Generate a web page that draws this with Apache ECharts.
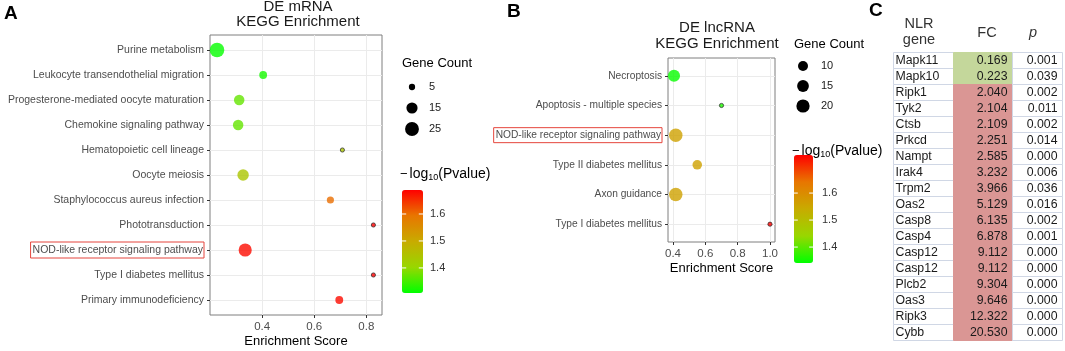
<!DOCTYPE html>
<html>
<head>
<meta charset="utf-8">
<script src="https://cdn.jsdelivr.net/npm/echarts@6/dist/echarts.min.js"></script>
<style>
  html, body { margin: 0; padding: 0; background: #fff; }
  #main { width: 1065px; height: 351px; }
</style>
</head>
<body>
<div id="main"></div>
<script>
// A: DE mRNA KEGG enrichment
const mrnaPathways = ['Purine metabolism', 'Leukocyte transendothelial migration', 'Progesterone-mediated oocyte maturation',
  'Chemokine signaling pathway', 'Hematopoietic cell lineage', 'Oocyte meiosis', 'Staphylococcus aureus infection',
  'Phototransduction', 'NOD-like receptor signaling pathway', 'Type I diabetes mellitus', 'Primary immunodeficiency']
const mrnaScore = [0.227, 0.404, 0.312, 0.308, 0.708, 0.327, 0.662, 0.827, 0.335, 0.827, 0.696]
const mrnaCount = [28, 7, 13, 13, 4, 16, 6, 4, 22, 4, 7]
const mrnaLogP = [1.31, 1.32, 1.37, 1.37, 1.44, 1.44, 1.60, 1.689, 1.68, 1.689, 1.68]
const mrnaXTicks = [0.4, 0.6, 0.8]
const mrnaCountLegend = [5, 15, 25]
const mrnaLogPTicks = [1.4, 1.5, 1.6]

// B: DE lncRNA KEGG enrichment
const lncPathways = ['Necroptosis', 'Apoptosis - multiple species', 'NOD-like receptor signaling pathway',
  'Type II diabetes mellitus', 'Axon guidance', 'Type I diabetes mellitus']
const lncScore = [0.406, 0.70, 0.417, 0.55, 0.417, 1.0]
const lncCount = [16, 3, 21, 9, 21, 3]
const lncLogP = [1.345, 1.36, 1.56, 1.56, 1.56, 1.74]
const lncXTicks = [0.4, 0.6, 0.8, 1.0]
const lncCountLegend = [10, 15, 20]
const lncLogPTicks = [1.4, 1.5, 1.6]

// C: NLR genes table
const nlrGenes = ['Mapk11', 'Mapk10', 'Ripk1', 'Tyk2', 'Ctsb', 'Prkcd', 'Nampt', 'Irak4', 'Trpm2', 'Oas2',
  'Casp8', 'Casp4', 'Casp12', 'Casp12', 'Plcb2', 'Oas3', 'Ripk3', 'Cybb']
const nlrFC = [0.169, 0.223, 2.040, 2.104, 2.109, 2.251, 2.585, 3.232, 3.966, 5.129,
  6.135, 6.878, 9.112, 9.112, 9.304, 9.646, 12.322, 20.530]
const nlrP = [0.001, 0.039, 0.002, 0.011, 0.002, 0.014, 0.000, 0.006, 0.036, 0.016,
  0.002, 0.001, 0.000, 0.000, 0.000, 0.000, 0.000, 0.000]

const FONT = '"Liberation Sans", Arial, sans-serif'
const GRAD = ['#00FF00', '#98D700', '#C8AB00', '#E87600', '#FF0000']
const HIGHLIGHT = 'NOD-like receptor signaling pathway'

// area-like size scale (ggplot scale_size)
function sizeScale (cmin, cmax, dmin, dmax) {
  return c => dmin + (dmax - dmin) * Math.sqrt(Math.max(0, (c - cmin) / (cmax - cmin)))
}
const sizeA = sizeScale(4, 28, 4.2, 14.5)
const sizeB = sizeScale(3, 21, 4.2, 13.5)

function dots (scores, counts, logp, size) {
  return scores.map((x, i) => {
    const d = size(counts[i])
    return {
      value: [x, i, counts[i], logp[i]],
      symbolSize: d,
      itemStyle: d < 5 ? { borderColor: 'rgba(30,30,30,0.85)', borderWidth: 1 } : {}
    }
  })
}

function scoreAxis (gridIndex, min, max, ticks) {
  return {
    type: 'value',
    gridIndex,
    min,
    max,
    splitNumber: 7,
    axisLine: { show: false, onZero: false },
    axisTick: { show: true, customValues: ticks, length: 3, lineStyle: { color: '#333' } },
    axisLabel: {
      customValues: ticks,
      color: '#4D4D4D',
      fontSize: 11.5,
      fontFamily: FONT,
      margin: 6,
      formatter: v => v.toFixed(1)
    },
    splitLine: { lineStyle: { color: '#EBEBEB', width: 1 } },
    name: 'Enrichment Score',
    nameLocation: 'middle',
    nameGap: 20,
    nameMoveOverlap: false,
    nameTextStyle: { color: '#000', fontSize: 13, fontFamily: FONT }
  }
}

function pathwayAxis (gridIndex, names, fontSize) {
  const idx = names.map((n, i) => i)
  return {
    type: 'value',
    gridIndex,
    min: -0.6,
    max: names.length - 0.4,
    inverse: true,
    splitNumber: names.length,
    axisLine: { show: false, onZero: false },
    axisTick: { show: true, customValues: idx, length: 3, lineStyle: { color: '#333' } },
    axisLabel: {
      customValues: idx,
      margin: 6,
      color: '#4D4D4D',
      fontSize,
      fontFamily: FONT,
      formatter: v => {
        const n = names[Math.round(v)]
        return n === HIGHLIGHT ? '{box|' + n + '}' : n
      },
      rich: {
        box: {
          borderColor: '#E5453C',
          borderWidth: 1,
          padding: [3, 1, 2, 2],
          color: '#4D4D4D',
          fontSize,
          fontFamily: FONT
        }
      }
    },
    splitLine: { lineStyle: { color: '#EBEBEB', width: 1 } }
  }
}

// table cells
function cellRenderer (col) {
  return function (params, api) {
    const c = api.coord([0, api.value(1)])
    const s = api.size([1, 1])
    const w = Math.round(s[0])
    const h = Math.round(s[1])
    const x = Math.round(c[0] - s[0] / 2) + 0.5
    const y = Math.round(c[1] - s[1] / 2) + 0.5
    const i = params.dataIndex
    let text, tx
    let fill = '#fff'
    let stroke = '#D0D7E5'
    let align = 'right'
    if (col === 'gene') {
      text = nlrGenes[i]
      align = 'left'
      tx = x + 2
    } else if (col === 'fc') {
      text = nlrFC[i].toFixed(3)
      fill = nlrFC[i] < 1 ? '#C4D79B' : '#DA9694'
      stroke = fill
      tx = x + w - 5
    } else {
      text = nlrP[i].toFixed(3)
      tx = x + w - 5
    }
    return {
      type: 'group',
      children: [
        { type: 'rect', shape: { x, y, width: w, height: h }, style: { fill, stroke, lineWidth: 1 } },
        {
          type: 'text',
          style: { text, x: tx, y: y + h / 2, align, verticalAlign: 'middle', fill: '#1a1a1a', fontSize: 12.3, fontFamily: FONT }
        }
      ]
    }
  }
}

const tableCols = [
  { key: 'gene', header: 'NLR\ngene', left: 893, width: 60, margin: 4, padding: [0, 8, 0, 0], italic: false },
  { key: 'fc', header: 'FC', left: 953, width: 59, margin: 11, padding: [0, 0, 0, 9], italic: false },
  { key: 'p', header: 'p', left: 1012, width: 50, margin: 11, padding: [0, 8, 0, 0], italic: true }
]

// legends drawn as graphics
function text (x, y, str, opt) {
  return {
    type: 'text',
    x,
    y,
    style: Object.assign({ text: str, fill: '#1a1a1a', fontSize: 11, fontFamily: FONT, align: 'left', verticalAlign: 'middle' }, opt || {})
  }
}

function sizeLegend (x, y, values, size, cx, ys, labelX) {
  const els = [text(x, y, 'Gene Count', { fontSize: 13, fill: '#000' })]
  values.forEach((v, i) => {
    els.push({ type: 'circle', shape: { cx, cy: ys[i], r: size(v) / 2 }, style: { fill: '#000' } })
    els.push(text(labelX, ys[i], String(v)))
  })
  return els
}

function colorLegend (x, y, min, max, left, top, w, h, ticks, labelX) {
  const els = [text(x, y, '{m|−}{l|log}{s|10}{l|(Pvalue)}', {
    rich: {
      m: { fontSize: 13, fontFamily: FONT, fill: '#000', lineHeight: 17, padding: [0, 2, 0, 0] },
      l: { fontSize: 14, fontFamily: FONT, fill: '#000', lineHeight: 17 },
      s: { fontSize: 9, fontFamily: FONT, fill: '#000', lineHeight: 9, verticalAlign: 'bottom' }
    }
  })]
  ticks.forEach(t => {
    const ty = top + (max - t) / (max - min) * h
    els.push({ type: 'line', shape: { x1: left, y1: ty, x2: left + w * 0.2, y2: ty }, style: { stroke: '#fff', lineWidth: 1 }, z: 10 })
    els.push({ type: 'line', shape: { x1: left + w * 0.8, y1: ty, x2: left + w, y2: ty }, style: { stroke: '#fff', lineWidth: 1 }, z: 10 })
    els.push(text(labelX, ty, t.toFixed(1), { fill: '#333' }))
  })
  return els
}

const LOGP_A = [1.307, 1.689]
const LOGP_B = [1.341, 1.741]

const graphics = [].concat(
  text(4, 14, 'A', { fontSize: 19, fontWeight: 'bold', fill: '#000' }),
  text(507, 12, 'B', { fontSize: 19, fontWeight: 'bold', fill: '#000' }),
  text(869, 11, 'C', { fontSize: 19, fontWeight: 'bold', fill: '#000' }),
  text(298, -0.5, 'DE mRNA\nKEGG Enrichment', { fontSize: 15, lineHeight: 15, align: 'center', verticalAlign: 'top', fill: '#1a1a1a' }),
  text(717, 20, 'DE lncRNA\nKEGG Enrichment', { fontSize: 15, lineHeight: 16, align: 'center', verticalAlign: 'top', fill: '#1a1a1a' }),
  sizeLegend(402, 63, mrnaCountLegend, sizeA, 412, [87, 108, 129], 429),
  sizeLegend(794, 44, lncCountLegend, sizeB, 803, [66, 86, 106], 821),
  colorLegend(400, 174, LOGP_A[0], LOGP_A[1], 402, 190, 21, 103, mrnaLogPTicks, 430),
  colorLegend(792, 151, LOGP_B[0], LOGP_B[1], 794, 155, 19, 108, lncLogPTicks, 822)
)

const plotGrid = { show: true, borderColor: '#7F7F7F', borderWidth: 1, backgroundColor: '#fff', containLabel: false, outerBoundsMode: 'none' }

const option = {
  animation: false,
  textStyle: { fontFamily: FONT },
  grid: [
    Object.assign({ left: 210, top: 35, width: 172, height: 280 }, plotGrid),
    Object.assign({ left: 668, top: 58, width: 107, height: 184 }, plotGrid)
  ].concat(tableCols.map(c => ({ left: c.left, top: 52, width: c.width, height: 288, containLabel: false, outerBoundsMode: 'none' }))),
  xAxis: [
    scoreAxis(0, 0.2, 0.86, mrnaXTicks),
    scoreAxis(1, 0.369, 1.031, lncXTicks)
  ].concat(tableCols.map((c, k) => ({
    type: 'category',
    gridIndex: 2 + k,
    position: 'top',
    data: [c.header],
    axisLine: { show: false },
    axisTick: { show: false },
    splitLine: { show: false },
    axisLabel: {
      margin: c.margin,
      color: '#333',
      fontSize: 14.5,
      lineHeight: 16,
      fontFamily: FONT,
      fontStyle: c.italic ? 'italic' : 'normal',
      padding: c.padding
    }
  }))),
  yAxis: [
    pathwayAxis(0, mrnaPathways, 10.5),
    pathwayAxis(1, lncPathways, 10.2)
  ].concat(tableCols.map((c, k) => ({
    type: 'category',
    gridIndex: 2 + k,
    inverse: true,
    data: nlrGenes.map((g, i) => i),
    show: false
  }))),
  visualMap: [
    {
      type: 'continuous',
      seriesIndex: 0,
      dimension: 3,
      min: LOGP_A[0],
      max: LOGP_A[1],
      inRange: { color: GRAD },
      calculable: false,
      left: 402,
      top: 190,
      itemWidth: 21,
      itemHeight: 103,
      padding: 0
    },
    {
      type: 'continuous',
      seriesIndex: 1,
      dimension: 3,
      min: LOGP_B[0],
      max: LOGP_B[1],
      inRange: { color: GRAD },
      calculable: false,
      left: 794,
      top: 155,
      itemWidth: 19,
      itemHeight: 108,
      padding: 0
    }
  ],
  series: [
    {
      type: 'scatter',
      xAxisIndex: 0,
      yAxisIndex: 0,
      clip: false,
      data: dots(mrnaScore, mrnaCount, mrnaLogP, sizeA)
    },
    {
      type: 'scatter',
      xAxisIndex: 1,
      yAxisIndex: 1,
      clip: false,
      data: dots(lncScore, lncCount, lncLogP, sizeB)
    }
  ].concat(tableCols.map((c, k) => ({
    type: 'custom',
    xAxisIndex: 2 + k,
    yAxisIndex: 2 + k,
    renderItem: cellRenderer(c.key),
    data: nlrGenes.map((g, i) => [0, i])
  }))),
  graphic: graphics
}

const chart = echarts.init(document.getElementById('main'))
chart.setOption(option)
</script>
</body>
</html>
